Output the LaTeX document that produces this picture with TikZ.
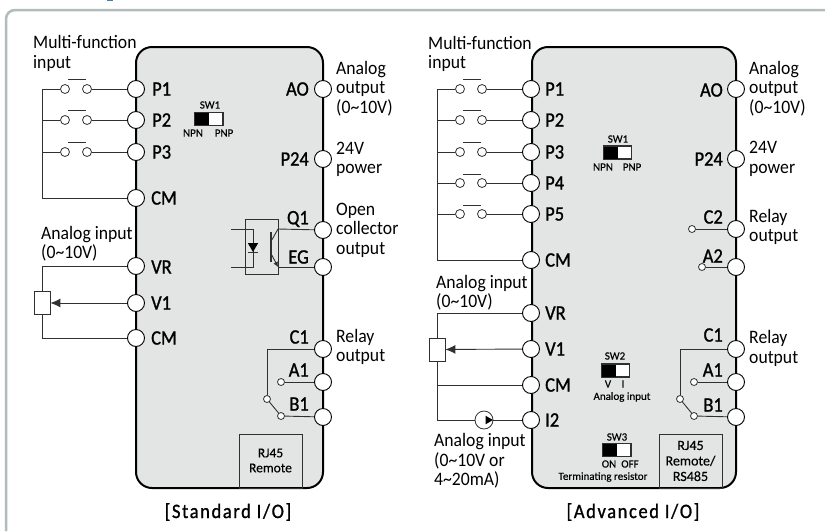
\documentclass[tikz,border=0pt]{standalone}
\usepackage{fontspec}
\setmainfont[FakeStretch=0.93]{Carlito}
\newfontfamily\termfont[FakeBold=1.1,FakeStretch=0.9]{Carlito}
\newfontfamily\smallfont[FakeBold=0.3]{Carlito}
\usetikzlibrary{arrows.meta,shapes.geometric}
\definecolor{framegray}{HTML}{B2BCBC}
\definecolor{panelgray}{HTML}{E3E5E4}
\definecolor{wiregray}{HTML}{303030}
\definecolor{topblue}{HTML}{3E7FB5}
\tikzset{
  panel/.style={draw=black, line width=2pt, fill=panelgray, rounded corners=16pt, inner sep=0pt, minimum width=#1, minimum height=441pt},
  term/.style={draw=black, fill=white, circle, line width=0.9pt, inner sep=0pt, minimum size=17pt},
  contact/.style={draw=wiregray, fill=white, circle, line width=0.8pt, inner sep=0pt, minimum size=7pt},
  pushcontact/.style={contact, minimum size=9pt},
  swbar/.style={fill=wiregray, inner sep=0pt, minimum width=18pt, minimum height=1pt},
  wire/.style={draw=wiregray, line width=0.9pt},
  tiparrow/.style={wire, -{Latex[length=10pt,width=9pt]}},
  tlabel/.style={inner sep=0pt, font=\fontsize{20.5}{22}\termfont},
  txt/.style={inner sep=0pt, anchor=west, align=left, font=\fontsize{19}{19.5}\selectfont},
  tiny/.style={inner sep=0pt, align=center, font=\fontsize{11}{13}\smallfont},
  rjbox/.style={draw=wiregray, line width=0.8pt, inner sep=0pt, align=center},
  knob/.style={draw=wiregray, fill=white, line width=1.4pt, inner sep=0pt, minimum width=28pt, minimum height=13pt},
  knobdark/.style={fill=black, inner sep=0pt, minimum width=14pt, minimum height=12pt},
  pot/.style={draw=wiregray, fill=white, line width=0.8pt, inner sep=0pt},
  caption/.style={inner sep=0pt, font=\fontsize{20.5}{22}\termfont\addfontfeatures{LetterSpace=8}}
}
\begin{document}
\begin{tikzpicture}[x=1pt,y=-1pt]
  \useasboundingbox (0,0) rectangle (825,531);
  % outer frame
  \draw[framegray, line width=2.5pt, rounded corners=9pt] (825,10) -| (6,531);
  \fill[topblue] (107,0) rectangle (113,1);

  % standard I/O board
  \node[panel=187pt] (stdboard) at (229.5,267.5) {};
  \node[txt] (stdmulti) at (33,53.5) {Multi-function\\input};
  \node[txt] (stdanain) at (41,243.5) {Analog input\\(0\textasciitilde10V)};
  \foreach \tname/\ypos/\ybar in {P1/89/79, P2/120/110, P3/152/142} {
    \node[pushcontact] (sa\tname) at (65,\ypos) {};
    \node[pushcontact] (sb\tname) at (87,\ypos) {};
    \node[swbar] (sbar\tname) at (77,\ybar) {};
    \node[term] (s\tname) at (136,\ypos) {};
    \node[tlabel, anchor=west] (sl\tname) at (152,\ypos) {\tname};
    \coordinate (sbus\tname) at (42,\ypos);
    \draw[wire] (sbus\tname) -- (sa\tname);
    \draw[wire] (sb\tname) -- (s\tname);
  }
  \foreach \tname/\ypos in {CM/198, VR/266, VI/303, CB/338} {
    \node[term] (s\tname) at (136,\ypos) {};
  }
  \node[tlabel, anchor=west] (slCM) at (151,198) {CM};
  \node[tlabel, anchor=west] (slVR) at (151,267) {VR};
  \node[tlabel, anchor=west] (slVI) at (151,303) {V1};
  \node[tlabel, anchor=west] (slCB) at (151,338) {CM};
  \draw[wire] (sbusP1) |- (sCM);
  \node[pot, minimum width=16pt, minimum height=23pt] (spot) at (42,303) {};
  \draw[wire] (sVR) -| (spot);
  \draw[wire] (sCB) -| (spot);
  \draw[tiparrow] (sVI) -- (spot);

  \foreach \tname/\ypos/\ylab/\tlab in {AO/89/89/AO, PP/159/159/P24, QO/230/219/Q1, EG/267/257/EG, CO/349/337/C1, AA/382/370/A1, BB/417/404/B1} {
    \node[term] (s\tname) at (323,\ypos) {};
    \node[tlabel, anchor=east] (sl\tname) at (309,\ylab) {\tlab};
  }
  \node[txt] (sanaout) at (336,88.5) {Analog\\output\\(0\textasciitilde10V)};
  \node[txt] (spower) at (336,159.5) {24V\\power};
  \node[txt] (sopen) at (336,230) {Open\\collector\\output};
  \node[txt] (srelay) at (336,347) {Relay\\output};

  % opto coupler
  \node[rjbox, minimum width=33pt, minimum height=55pt] (opto) at (261.5,246.5) {};
  \coordinate (optoa) at (231,229);
  \coordinate (optob) at (253,229);
  \coordinate (optoc) at (253,267);
  \coordinate (optod) at (231,267);
  \draw[wire] (optoa) -- (optob) -- (optoc) -- (optod);
  \node[fill=black, regular polygon, regular polygon sides=3, shape border rotate=180, inner sep=0pt, minimum size=12pt] (optoled) at (253,246) {};
  \node[swbar, minimum width=10pt] (optobar) at (253,252) {};
  \node[swbar, minimum width=1.2pt, minimum height=30pt] (optobase) at (271,247) {};
  \coordinate (optocol) at (278,229);
  \coordinate (optoem) at (278,267);
  \draw[wire] (optobase.east |- 0,240) -- (optocol);
  \draw[wire] (optocol) -- (sQO);
  \draw[wire] (optoem) -- (sEG);
  \draw[wire, -{Latex[length=5pt,width=5pt]}] (optobase.east |- 0,255) -- (optoem);

  % relay contacts
  \node[contact] (scoma) at (267,399) {};
  \node[contact] (scomb) at (281,382) {};
  \node[contact] (scomc) at (281,416) {};
  \draw[wire] (sCO) -| (scoma);
  \draw[wire] (scomb) -- (sAA);
  \draw[wire] (scomc) -- (sBB);
  \draw[wire] (scoma) -- (scomc);

  % switch and RJ45
  \node[knob] (ssw) at (209,119) {};
  \node[knobdark] (sswk) at ([xshift=-7pt]ssw.center) {};
  \node[tiny] (sswa) at (210,105) {SW1};
  \node[tiny] (sswb) at (193,133) {NPN};
  \node[tiny] (sswc) at (224,133) {PNP};
  \node[rjbox, minimum width=63pt, minimum height=54pt] (srj) at (270.5,461) {};
  \node[tiny, font=\fontsize{13.5}{15}\smallfont] (srjt) at (270.5,460.5) {RJ45\\Remote};
  \node[caption] (scap) at (228,512) {[Standard I/O]};

  % advanced I/O board
  \node[panel=204pt] (advboard) at (634,267.5) {};
  \node[txt] (amulti) at (428,54) {Multi-function\\input};
  \node[txt] (aanain) at (436,292.5) {Analog input\\(0\textasciitilde10V)};
  \node[txt] (aanaib) at (434,461) {Analog input\\(0\textasciitilde10V or\\4\textasciitilde20mA)};
  \foreach \tname/\ypos/\ybar in {P1/89/79, P2/120/110, P3/152/142, P4/183/174, P5/214/205} {
    \node[pushcontact] (aa\tname) at (460,\ypos) {};
    \node[pushcontact] (ab\tname) at (482,\ypos) {};
    \node[swbar] (abar\tname) at (472,\ybar) {};
    \node[term] (a\tname) at (531,\ypos) {};
    \node[tlabel, anchor=west] (al\tname) at (545,\ypos) {\tname};
    \coordinate (abus\tname) at (437,\ypos);
    \draw[wire] (abus\tname) -- (aa\tname);
    \draw[wire] (ab\tname) -- (a\tname);
  }
  \foreach \tname/\ypos/\tlab in {CM/260/CM, VR/313/VR, VI/349/V1, CB/385/CM, IT/420/I2} {
    \node[term] (a\tname) at (531,\ypos) {};
    \node[tlabel, anchor=west] (al\tname) at (545,\ypos) {\tlab};
  }
  \draw[wire] (abusP1) |- (aCM);
  \node[pot, minimum width=16pt, minimum height=23pt] (apot) at (437,349.5) {};
  \draw[wire] (aVR) -| (apot);
  \draw[wire] (aCB) -| (apot);
  \draw[tiparrow] (aVI) -- (apot);
  \node[circle, draw=wiregray, line width=0.8pt, inner sep=0pt, minimum size=18pt] (asrc) at (484,420) {};
  \coordinate (abusI) at (437,420);
  \draw[wire] (aIT) -- (asrc);
  \draw[wire] (asrc) -- (abusI);
  \draw[wire] (abusI) -- (aCB -| abusI);
  \node[fill=black, regular polygon, regular polygon sides=3, shape border rotate=-90, inner sep=0pt, minimum size=10pt] (asrctip) at (488,420) {};

  \foreach \tname/\ypos/\ylab/\tlab in {AO/89/90/AO, PP/159/159/P24, CT/229/217/C2, AT/267/256/A2, CO/349/335/C1, AA/382/370/A1, BB/417/405/B1} {
    \node[term] (a\tname) at (736,\ypos) {};
    \node[tlabel, anchor=east] (al\tname) at (723,\ylab) {\tlab};
  }
  \node[txt] (aanaout) at (749,88.5) {Analog\\output\\(0\textasciitilde10V)};
  \node[txt] (apower) at (749,159) {24V\\power};
  \node[txt] (arelayt) at (749,227) {Relay\\output};
  \node[txt] (arelayb) at (749,348.5) {Relay\\output};

  % relay contacts
  \node[contact] (actc) at (692,229) {};
  \node[contact] (acta) at (702,267) {};
  \draw[wire] (actc) -- (aCT);
  \draw[wire] (acta) -- (aAT);
  \node[contact] (acoma) at (680,399) {};
  \node[contact] (acomb) at (694,382) {};
  \node[contact] (acomc) at (694,416) {};
  \draw[wire] (aCO) -| (acoma);
  \draw[wire] (acomb) -- (aAA);
  \draw[wire] (acomc) -- (aBB);
  \draw[wire] (acoma) -- (acomc);

  % switches and RJ45
  \foreach \nname/\xpos/\ypos in {swa/617.5/152.5, swb/615.5/370.5, swc/617/450} {
    \node[knob] (\nname) at (\xpos,\ypos) {};
    \node[knobdark] (\nname k) at ([xshift=-7pt]\nname.center) {};
  }
  \node[tiny] (swat) at (618,139) {SW1};
  \node[tiny] (swal) at (603,167) {NPN};
  \node[tiny] (swar) at (632,167) {PNP};
  \node[tiny] (swbt) at (615,356) {SW2};
  \node[tiny] (swbl) at (608,384) {V};
  \node[tiny] (swbr) at (623,384) {I};
  \node[tiny] (swbc) at (622,397) {Analog input};
  \node[tiny] (swct) at (617,437) {SW3};
  \node[tiny] (swcl) at (609,464) {ON};
  \node[tiny] (swcr) at (630,464) {OFF};
  \node[tiny] (swcc) at (603,477) {Terminating resistor};
  \node[rjbox, minimum width=63pt, minimum height=54pt] (arj) at (690.5,461) {};
  \node[tiny, font=\fontsize{14}{15.5}\smallfont] (arjt) at (690.5,461) {RJ45\\Remote/\\RS485};
  \node[caption] (acap) at (633,512) {[Advanced I/O]};
\end{tikzpicture}
\end{document}
